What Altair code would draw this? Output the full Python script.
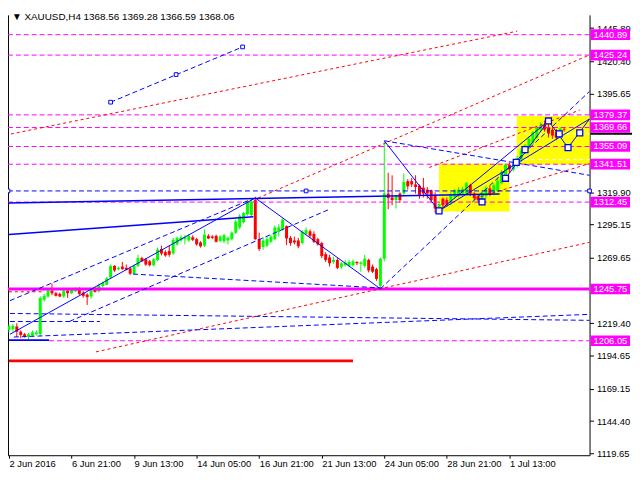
import altair as alt
import pandas as pd

# ---------------- data ----------------
title_text = "\u25BC XAUUSD,H4  1368.56 1369.28 1366.59 1368.06"

opens = [1214.5, 1215, 1217, 1213, 1211, 1209, 1210, 1211, 1211, 1237.5,
         1240, 1244.5, 1242.5, 1242, 1240, 1244.5, 1242.5, 1244, 1246, 1243,
         1241.5, 1240, 1246, 1244, 1248, 1249, 1254.5, 1263.5, 1261, 1263,
         1262, 1261.5, 1257.5, 1263.5, 1269.5, 1268.5, 1267, 1264, 1268, 1276.5,
         1274, 1275, 1273, 1280, 1283, 1284, 1283, 1285.5, 1284, 1281.5,
         1279, 1286.5, 1286, 1286.5, 1282.5, 1282.5, 1283, 1284, 1289, 1293,
         1297, 1303, 1302.5, 1314, 1284, 1278, 1279, 1282, 1284, 1289.5,
         1291.5, 1294, 1285, 1283, 1283, 1281, 1288, 1290, 1288, 1284,
         1281, 1272.5, 1270, 1266.5, 1268, 1262.5, 1264, 1263.5, 1264, 1266.5,
         1265, 1263.5, 1268, 1263, 1261, 1248, 1269, 1319, 1316, 1314,
         1319, 1319, 1328.5, 1328.5, 1326, 1325, 1323.5, 1322, 1321.5, 1318,
         1306, 1315, 1314, 1311.5, 1316.5, 1317, 1319, 1319, 1325.5, 1319,
         1317, 1315, 1317, 1323, 1319, 1321, 1327, 1332, 1341, 1337.5,
         1340, 1345, 1350, 1355, 1358, 1362, 1368, 1371.5, 1369.5, 1368,
         1366, 1363, 1368.56]
highs = [1218.5, 1219, 1219.5, 1214, 1212, 1212, 1214, 1214, 1240, 1242,
         1246, 1250, 1243.5, 1243, 1245.5, 1246, 1246.5, 1247, 1247, 1244,
         1242.5, 1246, 1247, 1250, 1251.5, 1255, 1264.5, 1264, 1263, 1266.5,
         1264.5, 1263, 1264.5, 1272, 1270.5, 1269.5, 1268, 1269.5, 1277.5, 1279,
         1275.5, 1279, 1285, 1286, 1287, 1287, 1288, 1287, 1285, 1282.5,
         1291.5, 1288, 1287, 1287.5, 1287, 1288, 1286, 1290, 1299, 1303,
         1305, 1314, 1315.5, 1316.5, 1289, 1285.5, 1286, 1287.5, 1294.5, 1295.5,
         1300, 1294.5, 1286.5, 1286, 1285, 1291, 1293, 1291.5, 1290, 1285,
         1282, 1274, 1272, 1270.5, 1269.5, 1266.5, 1268, 1268, 1268.5, 1267,
         1267, 1272, 1269, 1264.5, 1262, 1270, 1358.5, 1335, 1333, 1318,
         1320, 1334.5, 1330, 1331, 1333, 1326, 1331, 1324, 1322, 1320,
         1313, 1316, 1316, 1320, 1322.5, 1324, 1324, 1328, 1326.5, 1320,
         1318, 1322, 1325, 1325, 1327, 1331, 1337, 1342, 1343, 1343,
         1348, 1354, 1357, 1363, 1367, 1371, 1374, 1375, 1375.5, 1370,
         1368.5, 1370, 1369.28]
lows = [1212.5, 1213, 1209, 1208, 1208.5, 1207, 1209, 1210, 1210, 1236,
        1239, 1241, 1240, 1239.5, 1239, 1239, 1242, 1243.5, 1241, 1239,
        1233.5, 1238.5, 1243, 1243, 1247, 1248.5, 1254, 1259, 1260, 1260.5,
        1260, 1256.5, 1257, 1262.5, 1266.5, 1263.5, 1263, 1263, 1267, 1271.5,
        1270.5, 1270.5, 1272, 1279, 1282, 1280, 1282, 1282.5, 1279, 1277.5,
        1278, 1284, 1284, 1281.5, 1282, 1281, 1280, 1283, 1288, 1291.5,
        1296, 1302, 1301.5, 1283.5, 1275, 1276, 1278, 1281, 1283, 1286,
        1290.5, 1279.5, 1279, 1280, 1277, 1280, 1287, 1285, 1281, 1279,
        1269.5, 1266.5, 1263, 1265, 1261, 1261, 1263, 1262.5, 1263, 1264,
        1259, 1262, 1258.5, 1258, 1252, 1246, 1267, 1307, 1310, 1307.5,
        1312, 1318, 1322, 1324, 1319, 1315, 1316, 1315, 1312, 1304,
        1305.5, 1308.5, 1309, 1310, 1315, 1316, 1318, 1318.5, 1317, 1314,
        1312, 1313, 1315, 1317, 1318, 1320, 1326, 1331, 1335, 1336,
        1339, 1343, 1349, 1353.5, 1357, 1361, 1367, 1366.5, 1362, 1361,
        1360, 1362, 1366.59]
closes = [1217, 1217.5, 1213, 1210.5, 1209.5, 1211, 1212.5, 1212.5, 1238.8, 1240.5,
          1244.5, 1242.5, 1240.5, 1240, 1244.5, 1242.5, 1245.5, 1246, 1242, 1240.5,
          1239.5, 1244.5, 1243.5, 1248.5, 1250.5, 1254, 1263.5, 1260, 1262, 1261,
          1260.5, 1257.5, 1263.5, 1269.5, 1267, 1264.5, 1264, 1268.5, 1276, 1273,
          1271.5, 1272, 1283.5, 1285, 1285.5, 1285.5, 1286.5, 1283.5, 1280, 1278.5,
          1287.5, 1284.5, 1285, 1282, 1286, 1287, 1285, 1289, 1297.5, 1302,
          1304, 1312.5, 1313, 1284, 1276.5, 1283, 1284, 1286, 1293, 1293,
          1299, 1284.5, 1281, 1281.5, 1278.5, 1289.5, 1291, 1286.5, 1282, 1280,
          1271, 1268, 1265.5, 1268, 1262, 1265.5, 1266, 1266.5, 1267, 1265.5,
          1266, 1269, 1260, 1259, 1253.5, 1269, 1319, 1315.5, 1314, 1317,
          1314, 1328, 1324.5, 1326, 1324, 1318, 1319, 1319, 1314, 1307.5,
          1311, 1310, 1310.5, 1318, 1321.5, 1322, 1322.5, 1327, 1319, 1315.5,
          1314, 1320, 1323, 1318.5, 1325.5, 1329, 1335.5, 1341, 1337.5, 1341,
          1346, 1352, 1356, 1361, 1366, 1370, 1371.5, 1368, 1365, 1363.5,
          1362, 1369, 1368.06]

x_tick_bars = [0, 16, 32, 48, 64, 80, 96, 112, 128]
x_tick_labels = ["2 Jun 2016", "6 Jun 21:00", "9 Jun 13:00", "14 Jun 05:00",
                 "16 Jun 21:00", "21 Jun 13:00", "24 Jun 05:00", "28 Jun 21:00",
                 "1 Jul 13:00"]
y_tick_values = [1119.65, 1144.40, 1169.15, 1194.65, 1219.40, 1269.65,
                 1295.15, 1319.90, 1395.65, 1420.40, 1445.89]

level_prices = [1440.89, 1425.24, 1379.37, 1369.66, 1355.09, 1341.51, 1312.45,
                1245.75, 1206.05]
level_from = [-0.25, -0.25, -0.25, -0.25, -0.25, -0.25, -0.25, -0.25, 10.25]
level_solid = [False, False, False, False, False, False, False, True, False]

# rectangles: bar from, bar to, price top, price bottom
box_x0 = [110, 129.9]
box_x1 = [128, 148.5]
box_top = [1341.9, 1378.5]
box_bot = [1305.2, 1341.3]

# segments: (bar0, price0, bar1, price1)
blue_solid_segs = [(0, 1311.8, 125.5, 1318.6), (0, 1287.6, 62.5, 1301.2),
                   (0, 1206.5, 10.25, 1206.5)]
blue_thin_segs = [(0.25, 1211.0, 63, 1315.6),
                  (63, 1315.6, 95, 1245.9), (96, 1359.5, 110, 1305.7),
                  (110, 1305.7, 138, 1374.7), (110, 1305.7, 148.5, 1376.2),
                  (127, 1330.7, 138, 1374.7), (138, 1374.7, 143, 1354.2),
                  (143, 1354.2, 148.5, 1376.2)]
blue_dash_segs = [(0.25, 1236.8, 61.75, 1314.3), (15.5, 1220.9, 82.25, 1307.3),
                  (1.25, 1208.9, 148.5, 1226.3), (0.25, 1227.0, 148.5, 1221.7),
                  (31.75, 1257.2, 95, 1246.6), (26, 1389.1, 59.75, 1431.5),
                  (-0.25, 1321.0, 148.5, 1321.0), (95, 1245.9, 148.5, 1397.4),
                  (96, 1359.5, 148.5, 1333.0), (0.25, 1220.8, 23.25, 1220.8)]
red_dot_segs = [(0.5, 1364.7, 130, 1443.6), (63.75, 1315.6, 148.5, 1425.4),
                (107.5, 1339.0, 146, 1383.1), (119.25, 1315.4, 148.5, 1342.0),
                (22.25, 1197.5, 148.5, 1281.6), (0, 1243.6, 8.75, 1243.6)]
red_thick_segs = [(0, 1190.6, 88, 1190.6)]
white_dash_segs = [(130, 1364.8, 148.5, 1364.8), (130, 1345.1, 148.5, 1345.1)]

square_bars = [110, 121, 127, 129.75, 132, 138, 140.75, 143, 146]
square_prices = [1305.7, 1312.55, 1330.7, 1342.9, 1352.7, 1374.7, 1364.8, 1354.2, 1365.6]
small_sq_bars = [26, 42.75, 59.75, -0.25, 76, 148.5]
small_sq_prices = [1389.1, 1410.3, 1431.5, 1321.0, 1321.0, 1321.0]

bid_price = 1364.8

# ---------------- build ----------------
W, H = 589, 446
XD = [-0.25, 148.5]
YD = [1118.2, 1456.1]
FONT = "Liberation Sans"

xs = alt.Scale(domain=XD, nice=False, zero=False)
ys = alt.Scale(domain=YD, nice=False, zero=False)

candles = pd.DataFrame({"i": list(range(len(opens))), "o": opens, "h": highs,
                        "l": lows, "c": closes})
candles["dir"] = ["up" if c >= o else "down" for o, c in zip(opens, closes)]
candles["xl"] = candles["i"] - 0.38
candles["xr"] = candles["i"] + 0.38

col = alt.Color("dir:N", scale=alt.Scale(domain=["up", "down"],
                range=["#00ff00", "#ff0000"]), legend=None)

label_expr = "[" + ",".join("'%s'" % s for s in x_tick_labels) + "][round(datum.value/16)]"

wicks = alt.Chart(candles).mark_rule(strokeWidth=1).encode(
    x=alt.X("i:Q", scale=xs, title=None,
            axis=alt.Axis(values=x_tick_bars, labelExpr=label_expr, labelAlign="left",
                          labelFont=FONT, labelFontSize=9.5, labelColor="black",
                          tickColor="black", domainColor="black", tickSize=3,
                          labelPadding=0, labelOverlap=False, labelFlush=False,
                          grid=False)),
    y=alt.Y("l:Q", scale=ys, title=None,
            axis=alt.Axis(orient="right", values=y_tick_values, format=".2f",
                          labelFont=FONT, labelFontSize=9.5, labelColor="black",
                          tickColor="black", domainColor="black", tickSize=4,
                          labelPadding=3, labelOverlap=False, labelFlush=False,
                          grid=False)),
    y2="h:Q",
    color=col,
)

bodies = alt.Chart(candles).mark_rect().encode(
    x=alt.X("xl:Q", scale=xs, axis=None), x2="xr:Q",
    y=alt.Y("o:Q", scale=ys, title=None,
            axis=alt.Axis(orient="left", labels=False, ticks=False,
                          domainColor="black", grid=False)),
    y2="c:Q",
    color=col,
)

boxes_df = pd.DataFrame({"x0": box_x0, "x1": box_x1, "t": box_top, "b": box_bot})
boxes = alt.Chart(boxes_df).mark_rect(color="#ffff00").encode(
    x=alt.X("x0:Q", scale=xs, axis=None), x2="x1:Q",
    y=alt.Y("t:Q", scale=ys, axis=None), y2="b:Q")


def seg_layer(segs, **mk):
    df = pd.DataFrame(segs, columns=["x0", "p0", "x1", "p1"])
    return alt.Chart(df).mark_rule(**mk).encode(
        x=alt.X("x0:Q", scale=xs, axis=None), x2="x1:Q",
        y=alt.Y("p0:Q", scale=ys, axis=None), y2="p1:Q")


lv = pd.DataFrame({"p": level_prices, "x0": level_from,
                   "solid": level_solid})
lv["x1"] = XD[1]
lv["lab"] = [f"{p:.2f}" for p in level_prices]
lv["yt"] = lv["p"] + 4.1
lv["yb"] = lv["p"] - 4.1

lv_dash = alt.Chart(lv[~lv["solid"]]).mark_rule(color="#ff00ff", strokeDash=[5, 3],
                                                 strokeWidth=1).encode(
    x=alt.X("x0:Q", scale=xs, axis=None), x2="x1:Q",
    y=alt.Y("p:Q", scale=ys, axis=None))
lv_solid = alt.Chart(lv[lv["solid"]]).mark_rule(color="#ff00ff", strokeWidth=3).encode(
    x=alt.X("x0:Q", scale=xs, axis=None), x2="x1:Q",
    y=alt.Y("p:Q", scale=ys, axis=None))

sq = alt.Chart(pd.DataFrame({"i": square_bars, "p": square_prices})).mark_point(
    shape="square", size=36, fill="white", stroke="#0000ff", strokeWidth=1.3,
    opacity=1, fillOpacity=1).encode(
    x=alt.X("i:Q", scale=xs, axis=None), y=alt.Y("p:Q", scale=ys, axis=None))
sq2 = alt.Chart(pd.DataFrame({"i": small_sq_bars, "p": small_sq_prices})).mark_point(
    shape="square", size=14, fill="white", stroke="#0000ff", strokeWidth=1,
    opacity=1, fillOpacity=1).encode(
    x=alt.X("i:Q", scale=xs, axis=None), y=alt.Y("p:Q", scale=ys, axis=None))

bid = alt.Chart(pd.DataFrame({"p": [bid_price]})).mark_rule(
    color="black", strokeWidth=2).encode(
    x=alt.value(W + 1), x2=alt.value(W + 43), y=alt.Y("p:Q", scale=ys, axis=None))

lab_box = alt.Chart(lv).mark_rect(color="#ff00ff").encode(
    x=alt.value(W + 1), x2=alt.value(W + 41),
    y=alt.Y("yt:Q", scale=ys, axis=None), y2="yb:Q")
lab_txt = alt.Chart(lv).mark_text(color="white", font=FONT, fontSize=9.5,
                                  align="left", baseline="middle").encode(
    x=alt.value(W + 4), y=alt.Y("p:Q", scale=ys, axis=None), text="lab:N")

ttl = alt.Chart(pd.DataFrame({"t": [title_text]})).mark_text(
    color="black", font=FONT, fontSize=10, align="left", baseline="middle").encode(
    x=alt.value(4), y=alt.value(2), text="t:N")

chart = alt.layer(
    boxes,
    seg_layer(white_dash_segs, color="white", strokeDash=[4, 3], strokeWidth=1),
    wicks, bodies,
    lv_dash, lv_solid,
    seg_layer(red_thick_segs, color="#ff0000", strokeWidth=3),
    seg_layer(red_dot_segs, color="#ff0000", strokeDash=[3, 3], strokeWidth=1),
    seg_layer(blue_dash_segs, color="#0000ff", strokeDash=[5, 3], strokeWidth=1),
    seg_layer(blue_solid_segs, color="#0000ff", strokeWidth=1.6),
    seg_layer(blue_thin_segs, color="#0000ff", strokeWidth=1),
    sq, sq2, bid, lab_box, lab_txt, ttl,
).resolve_axis(x="independent", y="independent").properties(
    width=W, height=H,
    autosize=alt.AutoSizeParams(type="none"),
    padding={"left": 0, "top": 4, "right": 43, "bottom": 12},
    background="white",
).configure_view(stroke=None)

chart.save("out.html", embed_options={"renderer": "svg", "actions": False})
